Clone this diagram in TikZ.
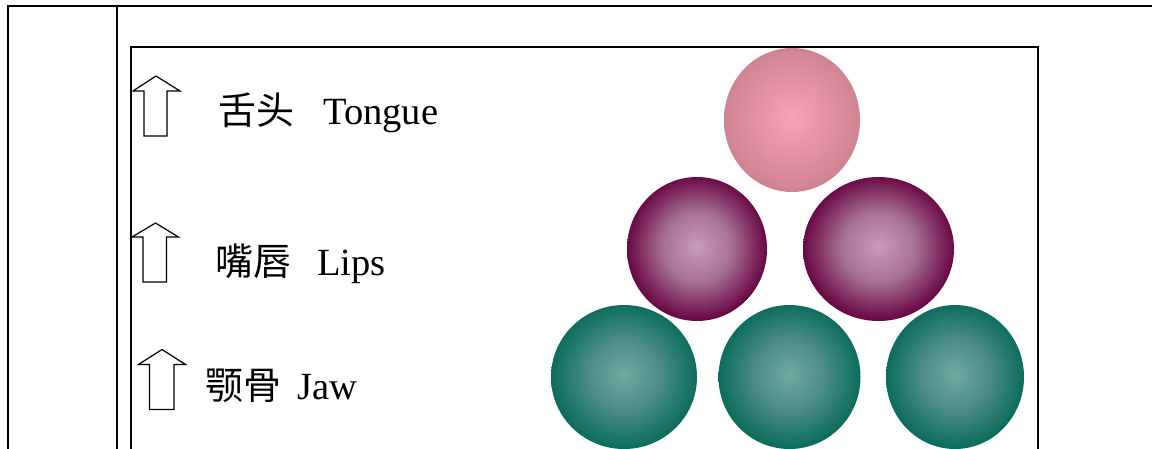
\documentclass[tikz,border=0pt]{standalone}
\usepackage{fontspec}
\setmainfont{Liberation Serif}
\newfontfamily\cjk{Noto Sans CJK SC}
\definecolor{pinkin}{HTML}{F7A3B4}
\definecolor{pinkmid}{HTML}{E594A5}
\definecolor{pinkout}{HTML}{CF8391}
\definecolor{purpin}{HTML}{C99BBA}
\definecolor{purpmid}{HTML}{A87294}
\definecolor{purpout}{HTML}{690844}
\definecolor{tealin}{HTML}{6DAAA2}
\definecolor{tealmid}{HTML}{4C8E85}
\definecolor{tealout}{HTML}{0C6C5E}
\pgfdeclareradialshading{pinkball}{\pgfpoint{0bp}{1bp}}{color(0bp)=(pinkin); color(12bp)=(pinkmid); color(25bp)=(pinkout); color(50bp)=(pinkout)}
\pgfdeclareradialshading{purpball}{\pgfpoint{0bp}{1bp}}{color(0bp)=(purpin); color(12bp)=(purpmid); color(25bp)=(purpout); color(50bp)=(purpout)}
\pgfdeclareradialshading{tealball}{\pgfpoint{0bp}{1bp}}{color(0bp)=(tealin); color(12bp)=(tealmid); color(25bp)=(tealout); color(50bp)=(tealout)}
\tikzset{
  frame/.style={line width=2pt, black},
  inner/.style={line width=1.6pt, black},
  uparrow/.style={draw=black, line width=1.2pt, fill=white, line join=miter},
  lbl/.style={anchor=base west, inner sep=0pt, font=\fontsize{38.5}{40}\selectfont},
  cjklbl/.style={anchor=base west, inner sep=0pt, font=\fontsize{38}{40}\selectfont\cjk},
  tongueball/.style={shading=pinkball},
  lipball/.style={shading=purpball},
  jawball/.style={shading=tealball},
}
\begin{document}
\begin{tikzpicture}[x=1pt,y=-1pt]
\useasboundingbox (0,0) rectangle (1152,448);
\clip (0,0) rectangle (1152,448);
\fill[white] (0,0) rectangle (1152,448);
% outer table
\draw[frame] (1152,6) -- (8,6) -- (8,460);
\draw[frame] (117,6) -- (117,460);
% inner frame
\draw[inner] (131,470) -- (131,47) -- (1038,47) -- (1038,470);
% arrows
\draw[uparrow] (156,76) -- (180,91) -- (167,91) -- (167,136) -- (144,136) -- (144,91) -- (133,91) -- cycle;
\draw[uparrow] (155.5,223) -- (178.5,237) -- (166.5,237) -- (166.5,282) -- (143,282) -- (143,237) -- (132,237) -- cycle;
\draw[uparrow] (162,349.5) -- (185.5,364.5) -- (174,364.5) -- (174,409.5) -- (149.5,409.5) -- (149.5,364.5) -- (138.5,364.5) -- cycle;
% labels
\node[cjklbl] (tzh) at (218,124) {舌头};
\node[lbl] (ten) at (323,124.3) {Tongue};
\node[cjklbl] (lzh) at (215,275.7) {嘴唇};
\node[lbl] (len) at (317,275.7) {Lips};
\node[cjklbl] (jzh) at (205,399) {颚骨};
\node[lbl] (jen) at (297,399) {Jaw};
% balls
\shade[tongueball] (792,120) ellipse [x radius=68, y radius=72];
\shade[lipball] (697,249) ellipse [x radius=70, y radius=72];
\shade[lipball] (878.5,249) ellipse [x radius=75.5, y radius=72];
\shade[jawball] (624,377) ellipse [x radius=73, y radius=72];
\shade[jawball] (789.5,377) ellipse [x radius=71, y radius=72];
\shade[jawball] (955,377) ellipse [x radius=69, y radius=72];
\end{tikzpicture}
\end{document}
